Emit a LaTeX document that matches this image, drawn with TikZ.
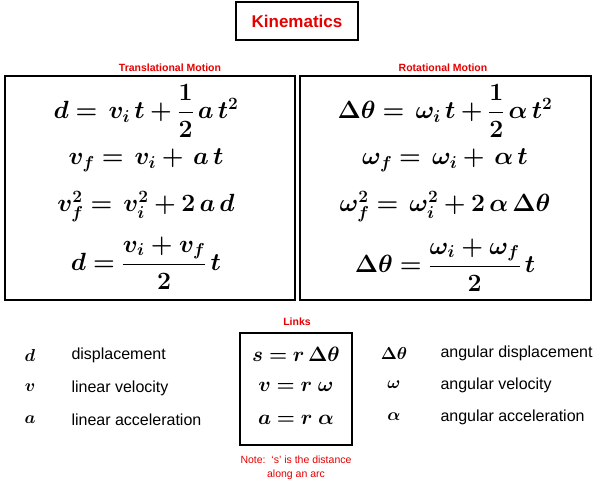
\documentclass[tikz,border=0pt]{standalone}
\usepackage{amsmath,bm}
\usepackage{fontspec}
\setmainfont{Liberation Sans}
\definecolor{kred}{RGB}{230,0,0}
\begin{document}
\begin{tikzpicture}[x=1pt,y=-1pt,
  box/.style={draw,line width=1.2pt},
  eq/.style={font=\fontsize{23}{26}\selectfont},
  lbl/.style={text=kred,font=\bfseries\fontsize{10.5}{12}\selectfont},
  leg/.style={font=\fontsize{16}{18}\selectfont,anchor=west},
  sym/.style={font=\fontsize{18}{18}\selectfont}]
\useasboundingbox (0,0) rectangle (600,490);
\node[box,minimum width=122,minimum height=38,text=kred,font=\bfseries\fontsize{17}{20}\selectfont] (title) at (297,21) {Kinematics};
\draw[box] (5,76) rectangle (295,300);
\draw[box] (300,76) rectangle (591,300);
\node[lbl] (tl) at (170,68) {Translational Motion};
\node[lbl] (rl) at (443,68) {Rotational Motion};
\node[eq] (e1) at (146,111) {$\bm{d =\, v_i\, t + \dfrac{1}{2}\,a\,t^2}$};
\node[eq] (e2) at (146,160) {$\bm{v_f =\, v_i +\, a\,t}$};
\node[eq] (e3) at (146,207) {$\bm{v_f^2 =\, v_i^2 + 2\,a\,d}$};
\node[eq] (e4) at (146,263) {$\bm{d = \dfrac{v_i+v_f}{2}\,t}$};
\node[eq] (r1) at (445,111) {$\bm{\Delta\theta =\, \omega_i\, t + \dfrac{1}{2}\,\alpha\,t^2}$};
\node[eq] (r2) at (445,160) {$\bm{\omega_f =\, \omega_i +\, \alpha\,t}$};
\node[eq] (r3) at (445,207) {$\bm{\omega_f^2 =\, \omega_i^2 + 2\,\alpha\,\Delta\theta}$};
\node[eq] (r4) at (445,265) {$\bm{\Delta\theta = \dfrac{\omega_i+\omega_f}{2}\,t}$};
\node[lbl] (links) at (297,322) {Links};
\draw[box] (240,333) rectangle (352,445);
\node[eq,font=\fontsize{20}{22}\selectfont] (k1) at (296,354) {$\bm{s = r\,\Delta\theta}$};
\node[eq,font=\fontsize{20}{22}\selectfont] (k2) at (296,387) {$\bm{v = r\;\omega}$};
\node[eq,font=\fontsize{20}{22}\selectfont] (k3) at (296,420) {$\bm{a = r\;\alpha}$};
\node[text=kred,font=\fontsize{10.5}{14}\selectfont,align=center] (note) at (296,468) {Note:\ \ `s' is the distance\\along an arc};
\node[sym] (sd) at (30,355) {$\bm{d}$};
\node[sym] (sv) at (30,388) {$\bm{v}$};
\node[sym] (sa) at (30,420) {$\bm{a}$};
\node[leg] (ld) at (68,355) {displacement};
\node[leg] (lv) at (68,388) {linear velocity};
\node[leg] (la) at (68,420) {linear acceleration};
\node[sym] (st) at (394,353) {$\bm{\Delta\theta}$};
\node[sym] (sw) at (394,385) {$\bm{\omega}$};
\node[sym] (sl) at (394,417) {$\bm{\alpha}$};
\node[leg] (lt) at (437,353) {angular displacement};
\node[leg] (lw) at (437,385) {angular velocity};
\node[leg] (ll) at (437,417) {angular acceleration};
\end{tikzpicture}
\end{document}
